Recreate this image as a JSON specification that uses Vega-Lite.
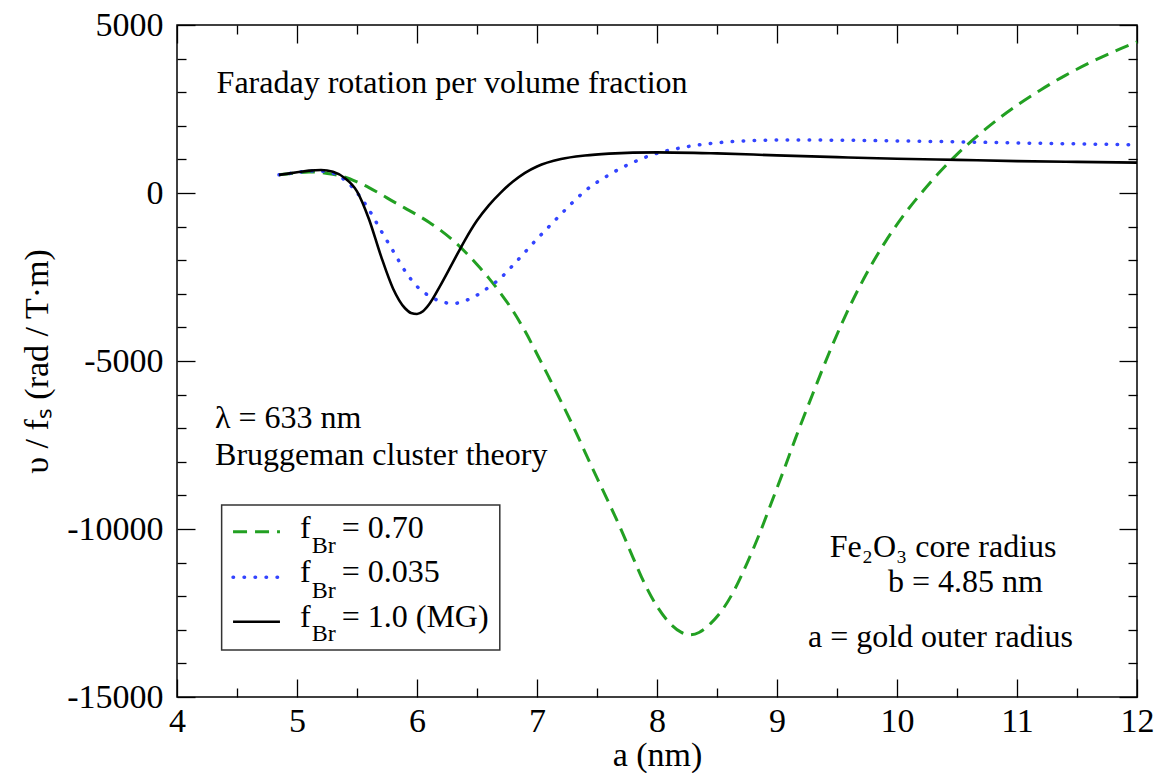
{
"$schema": "https://vega.github.io/schema/vega-lite/v6.json",
"width": 960, "height": 672,
"autosize": {"type": "none"},
"padding": {"left": 177, "top": 25, "right": 22, "bottom": 76},
"background": "white",
"config": {
  "view": {"stroke": "black", "strokeWidth": 1.5},
  "font": "Liberation Serif",
  "axis": {"domain": false, "grid": false, "tickColor": "black", "tickWidth": 1.3, "labelFont": "Liberation Serif", "labelFontSize": 34, "labelColor": "black", "titleFont": "Liberation Serif", "titleFontSize": 34, "titleFontWeight": "normal", "titleColor": "black", "labelFlush": false, "labelOverlap": false, "labelAngle": 0},
  "text": {"font": "Liberation Serif", "fontSize": 32, "color": "black"}
},
"datasets": {
  "curves": [
    {"series": "0.70", "a": 4.85, "v": 540}, {"series": "0.70", "a": 5.0, "v": 600}, {"series": "0.70", "a": 5.1, "v": 625}, {"series": "0.70", "a": 5.2, "v": 610}, {"series": "0.70", "a": 5.3, "v": 555}, {"series": "0.70", "a": 5.4, "v": 470}, {"series": "0.70", "a": 5.5, "v": 330}, {"series": "0.70", "a": 5.6, "v": 160}, {"series": "0.70", "a": 5.7, "v": -40}, {"series": "0.70", "a": 5.8, "v": -250}, {"series": "0.70", "a": 5.9, "v": -450}, {"series": "0.70", "a": 6.0, "v": -650}, {"series": "0.70", "a": 6.1, "v": -870}, {"series": "0.70", "a": 6.2, "v": -1120}, {"series": "0.70", "a": 6.3, "v": -1410}, {"series": "0.70", "a": 6.4, "v": -1750}, {"series": "0.70", "a": 6.5, "v": -2130}, {"series": "0.70", "a": 6.6, "v": -2540}, {"series": "0.70", "a": 6.7, "v": -3000}, {"series": "0.70", "a": 6.8, "v": -3510}, {"series": "0.70", "a": 6.9, "v": -4110}, {"series": "0.70", "a": 7.0, "v": -4790}, {"series": "0.70", "a": 7.1, "v": -5490}, {"series": "0.70", "a": 7.2, "v": -6200}, {"series": "0.70", "a": 7.3, "v": -6930}, {"series": "0.70", "a": 7.4, "v": -7710}, {"series": "0.70", "a": 7.5, "v": -8480}, {"series": "0.70", "a": 7.6, "v": -9230}, {"series": "0.70", "a": 7.7, "v": -10010}, {"series": "0.70", "a": 7.8, "v": -10850}, {"series": "0.70", "a": 7.9, "v": -11650}, {"series": "0.70", "a": 8.0, "v": -12300}, {"series": "0.70", "a": 8.1, "v": -12780}, {"series": "0.70", "a": 8.2, "v": -13070}, {"series": "0.70", "a": 8.27, "v": -13150}, {"series": "0.70", "a": 8.35, "v": -13080}, {"series": "0.70", "a": 8.45, "v": -12800}, {"series": "0.70", "a": 8.55, "v": -12380}, {"series": "0.70", "a": 8.65, "v": -11780}, {"series": "0.70", "a": 8.75, "v": -11020}, {"series": "0.70", "a": 8.85, "v": -10180}, {"series": "0.70", "a": 8.95, "v": -9250}, {"series": "0.70", "a": 9.05, "v": -8310}, {"series": "0.70", "a": 9.15, "v": -7340}, {"series": "0.70", "a": 9.3, "v": -5960}, {"series": "0.70", "a": 9.45, "v": -4625}, {"series": "0.70", "a": 9.6, "v": -3425}, {"series": "0.70", "a": 9.75, "v": -2375}, {"series": "0.70", "a": 9.9, "v": -1468}, {"series": "0.70", "a": 10.05, "v": -688}, {"series": "0.70", "a": 10.2, "v": -13}, {"series": "0.70", "a": 10.35, "v": 600}, {"series": "0.70", "a": 10.5, "v": 1150}, {"series": "0.70", "a": 10.7, "v": 1790}, {"series": "0.70", "a": 10.85, "v": 2220}, {"series": "0.70", "a": 11.0, "v": 2610}, {"series": "0.70", "a": 11.2, "v": 3075}, {"series": "0.70", "a": 11.4, "v": 3495}, {"series": "0.70", "a": 11.6, "v": 3865}, {"series": "0.70", "a": 11.8, "v": 4195}, {"series": "0.70", "a": 12.0, "v": 4495},
    {"series": "0.035", "a": 4.85, "v": 540}, {"series": "0.035", "a": 5.0, "v": 610}, {"series": "0.035", "a": 5.1, "v": 655}, {"series": "0.035", "a": 5.2, "v": 650}, {"series": "0.035", "a": 5.3, "v": 590}, {"series": "0.035", "a": 5.4, "v": 380}, {"series": "0.035", "a": 5.5, "v": 10}, {"series": "0.035", "a": 5.6, "v": -500}, {"series": "0.035", "a": 5.7, "v": -1120}, {"series": "0.035", "a": 5.8, "v": -1720}, {"series": "0.035", "a": 5.9, "v": -2320}, {"series": "0.035", "a": 6.0, "v": -2780}, {"series": "0.035", "a": 6.1, "v": -3060}, {"series": "0.035", "a": 6.2, "v": -3230}, {"series": "0.035", "a": 6.3, "v": -3290}, {"series": "0.035", "a": 6.4, "v": -3210}, {"series": "0.035", "a": 6.5, "v": -3040}, {"series": "0.035", "a": 6.6, "v": -2800}, {"series": "0.035", "a": 6.7, "v": -2520}, {"series": "0.035", "a": 6.8, "v": -2150}, {"series": "0.035", "a": 6.9, "v": -1760}, {"series": "0.035", "a": 7.0, "v": -1370}, {"series": "0.035", "a": 7.1, "v": -1000}, {"series": "0.035", "a": 7.2, "v": -630}, {"series": "0.035", "a": 7.3, "v": -270}, {"series": "0.035", "a": 7.4, "v": 60}, {"series": "0.035", "a": 7.5, "v": 320}, {"series": "0.035", "a": 7.6, "v": 540}, {"series": "0.035", "a": 7.7, "v": 740}, {"series": "0.035", "a": 7.8, "v": 910}, {"series": "0.035", "a": 7.9, "v": 1060}, {"series": "0.035", "a": 8.0, "v": 1180}, {"series": "0.035", "a": 8.2, "v": 1345}, {"series": "0.035", "a": 8.4, "v": 1455}, {"series": "0.035", "a": 8.6, "v": 1525}, {"series": "0.035", "a": 8.8, "v": 1560}, {"series": "0.035", "a": 9.0, "v": 1575}, {"series": "0.035", "a": 9.2, "v": 1578}, {"series": "0.035", "a": 9.5, "v": 1572}, {"series": "0.035", "a": 10.0, "v": 1550}, {"series": "0.035", "a": 10.5, "v": 1522}, {"series": "0.035", "a": 11.0, "v": 1490}, {"series": "0.035", "a": 11.5, "v": 1462}, {"series": "0.035", "a": 12.0, "v": 1435},
    {"series": "1.0", "a": 4.85, "v": 540}, {"series": "1.0", "a": 5.0, "v": 615}, {"series": "1.0", "a": 5.1, "v": 665}, {"series": "1.0", "a": 5.2, "v": 685}, {"series": "1.0", "a": 5.3, "v": 630}, {"series": "1.0", "a": 5.4, "v": 440}, {"series": "1.0", "a": 5.5, "v": 50}, {"series": "1.0", "a": 5.6, "v": -780}, {"series": "1.0", "a": 5.7, "v": -1880}, {"series": "1.0", "a": 5.8, "v": -2840}, {"series": "1.0", "a": 5.9, "v": -3430}, {"series": "1.0", "a": 5.95, "v": -3570}, {"series": "1.0", "a": 6.0, "v": -3600}, {"series": "1.0", "a": 6.05, "v": -3520}, {"series": "1.0", "a": 6.1, "v": -3320}, {"series": "1.0", "a": 6.2, "v": -2720}, {"series": "1.0", "a": 6.3, "v": -2060}, {"series": "1.0", "a": 6.4, "v": -1400}, {"series": "1.0", "a": 6.5, "v": -820}, {"series": "1.0", "a": 6.6, "v": -360}, {"series": "1.0", "a": 6.7, "v": 20}, {"series": "1.0", "a": 6.8, "v": 340}, {"series": "1.0", "a": 6.9, "v": 600}, {"series": "1.0", "a": 7.0, "v": 790}, {"series": "1.0", "a": 7.2, "v": 1010}, {"series": "1.0", "a": 7.4, "v": 1115}, {"series": "1.0", "a": 7.6, "v": 1172}, {"series": "1.0", "a": 7.8, "v": 1202}, {"series": "1.0", "a": 8.0, "v": 1210}, {"series": "1.0", "a": 8.5, "v": 1178}, {"series": "1.0", "a": 9.0, "v": 1120}, {"series": "1.0", "a": 9.5, "v": 1068}, {"series": "1.0", "a": 10.0, "v": 1020}, {"series": "1.0", "a": 10.5, "v": 985}, {"series": "1.0", "a": 11.0, "v": 950}, {"series": "1.0", "a": 11.5, "v": 925}, {"series": "1.0", "a": 12.0, "v": 903}
  ]
},
"resolve": {"axis": {"x": "independent", "y": "independent"}},
"layer": [
  {
    "layer": [
      {
        "data": {"name": "curves"},
        "transform": [{"filter": "datum.series === '0.70'"}],
        "mark": {"type": "line", "color": "#22a022", "strokeWidth": 3, "strokeDash": [14, 8], "interpolate": "monotone"},
        "encoding": {
          "x": {"field": "a", "type": "quantitative", "scale": {"domain": [4, 12], "nice": false, "zero": false}, "axis": null},
          "y": {"field": "v", "type": "quantitative", "scale": {"domain": [-15000, 5000], "nice": false, "zero": false}, "axis": null}
        }
      },
      {
        "data": {"name": "curves"},
        "transform": [{"filter": "datum.series === '0.035'"}],
        "mark": {"type": "line", "color": "#3344ff", "strokeWidth": 3.5, "strokeDash": [0.5, 10.5], "strokeCap": "round", "interpolate": "monotone"},
        "encoding": {
          "x": {"field": "a", "type": "quantitative", "axis": null},
          "y": {"field": "v", "type": "quantitative", "axis": null}
        }
      },
      {
        "data": {"name": "curves"},
        "transform": [{"filter": "datum.series === '1.0'"}],
        "mark": {"type": "line", "color": "black", "strokeWidth": 2.6, "interpolate": "monotone"},
        "encoding": {
          "x": {"field": "a", "type": "quantitative", "axis": null},
          "y": {"field": "v", "type": "quantitative", "axis": null}
        }
      },
      {"data": {"values": [{}]}, "mark": {"type": "text", "text": "Faraday rotation per volume fraction", "align": "left", "baseline": "alphabetic"},
       "encoding": {"x": {"datum": 4.33, "axis": null}, "y": {"datum": 2967, "axis": null}}},
      {"data": {"values": [{}]}, "mark": {"type": "text", "text": "λ = 633 nm", "align": "left", "baseline": "alphabetic"},
       "encoding": {"x": {"datum": 4.317, "axis": null}, "y": {"datum": -7004, "axis": null}}},
      {"data": {"values": [{}]}, "mark": {"type": "text", "text": "Bruggeman cluster theory", "align": "left", "baseline": "alphabetic"},
       "encoding": {"x": {"datum": 4.317, "axis": null}, "y": {"datum": -8095, "axis": null}}},
      {"data": {"values": [{}]}, "mark": {"type": "text", "text": "Fe₂O₃ core radius", "align": "left", "baseline": "alphabetic"},
       "encoding": {"x": {"datum": 9.44, "axis": null}, "y": {"datum": -10824, "axis": null}}},
      {"data": {"values": [{}]}, "mark": {"type": "text", "text": "b = 4.85 nm", "align": "left", "baseline": "alphabetic"},
       "encoding": {"x": {"datum": 9.925, "axis": null}, "y": {"datum": -11866, "axis": null}}},
      {"data": {"values": [{}]}, "mark": {"type": "text", "text": "a = gold outer radius", "align": "left", "baseline": "alphabetic"},
       "encoding": {"x": {"datum": 9.258, "axis": null}, "y": {"datum": -13503, "axis": null}}},
      {"data": {"values": [{}]}, "mark": {"type": "rect", "fill": null, "fillOpacity": 0, "stroke": "#333333", "strokeWidth": 1.5},
       "encoding": {"x": {"datum": 4.372, "axis": null}, "x2": {"datum": 6.69}, "y": {"datum": -9286, "axis": null}, "y2": {"datum": -13601}}},
      {"data": {"values": [{}]}, "mark": {"type": "rule", "color": "#22a022", "strokeWidth": 3, "strokeDash": [14, 8]},
       "encoding": {"x": {"datum": 4.467, "axis": null}, "x2": {"datum": 4.858}, "y": {"datum": -10080, "axis": null}}},
      {"data": {"values": [{}]}, "mark": {"type": "rule", "color": "#3344ff", "strokeWidth": 3.5, "strokeDash": [0.5, 10.5], "strokeCap": "round"},
       "encoding": {"x": {"datum": 4.467, "axis": null}, "x2": {"datum": 4.858}, "y": {"datum": -11438, "axis": null}}},
      {"data": {"values": [{}]}, "mark": {"type": "rule", "color": "black", "strokeWidth": 2.6},
       "encoding": {"x": {"datum": 4.467, "axis": null}, "x2": {"datum": 4.858}, "y": {"datum": -12759, "axis": null}}},
      {"data": {"values": [{}]}, "mark": {"type": "text", "text": "f", "align": "left", "baseline": "alphabetic"},
       "encoding": {"x": {"datum": 5.025, "axis": null}, "y": {"datum": -10277, "axis": null}}},
      {"data": {"values": [{}]}, "mark": {"type": "text", "text": "Br", "align": "left", "baseline": "alphabetic", "fontSize": 24},
       "encoding": {"x": {"datum": 5.1225, "axis": null}, "y": {"datum": -10700, "axis": null}}},
      {"data": {"values": [{}]}, "mark": {"type": "text", "text": "= 0.70", "align": "left", "baseline": "alphabetic"},
       "encoding": {"x": {"datum": 5.3725, "axis": null}, "y": {"datum": -10277, "axis": null}}},
      {"data": {"values": [{}]}, "mark": {"type": "text", "text": "f", "align": "left", "baseline": "alphabetic"},
       "encoding": {"x": {"datum": 5.025, "axis": null}, "y": {"datum": -11568, "axis": null}}},
      {"data": {"values": [{}]}, "mark": {"type": "text", "text": "Br", "align": "left", "baseline": "alphabetic", "fontSize": 24},
       "encoding": {"x": {"datum": 5.1225, "axis": null}, "y": {"datum": -12040, "axis": null}}},
      {"data": {"values": [{}]}, "mark": {"type": "text", "text": "= 0.035", "align": "left", "baseline": "alphabetic"},
       "encoding": {"x": {"datum": 5.3725, "axis": null}, "y": {"datum": -11568, "axis": null}}},
      {"data": {"values": [{}]}, "mark": {"type": "text", "text": "f", "align": "left", "baseline": "alphabetic"},
       "encoding": {"x": {"datum": 5.025, "axis": null}, "y": {"datum": -12908, "axis": null}}},
      {"data": {"values": [{}]}, "mark": {"type": "text", "text": "Br", "align": "left", "baseline": "alphabetic", "fontSize": 24},
       "encoding": {"x": {"datum": 5.1225, "axis": null}, "y": {"datum": -13330, "axis": null}}},
      {"data": {"values": [{}]}, "mark": {"type": "text", "text": "= 1.0 (MG)", "align": "left", "baseline": "alphabetic"},
       "encoding": {"x": {"datum": 5.3725, "axis": null}, "y": {"datum": -12908, "axis": null}}}
    ]
  },
  {
    "data": {"name": "curves"},
    "mark": {"type": "point", "opacity": 0},
    "encoding": {
      "x": {"field": "a", "type": "quantitative", "axis": {"orient": "bottom", "values": [4, 5, 6, 7, 8, 9, 10, 11, 12], "tickSize": -18, "labelPadding": 25, "title": "a (nm)", "titlePadding": 0, "labelExpr": "'' + datum.value"}},
      "y": {"field": "v", "type": "quantitative", "axis": {"orient": "left", "values": [-15000, -10000, -5000, 0, 5000], "tickSize": -18, "labelPadding": 32, "title": "υ / fₛ (rad / T·m)", "titlePadding": 12, "labelExpr": "'' + datum.value"}}
    }
  },
  {
    "data": {"name": "curves"},
    "mark": {"type": "point", "opacity": 0},
    "encoding": {
      "x": {"field": "a", "type": "quantitative", "axis": {"orient": "bottom", "values": [4.5, 5.5, 6.5, 7.5, 8.5, 9.5, 10.5, 11.5], "tickSize": -9, "labels": false, "title": null}},
      "y": {"field": "v", "type": "quantitative", "axis": {"orient": "left", "values": [-14000, -13000, -12000, -11000, -9000, -8000, -7000, -6000, -4000, -3000, -2000, -1000, 1000, 2000, 3000, 4000], "tickSize": -9, "labels": false, "title": null}}
    }
  },
  {
    "data": {"name": "curves"},
    "mark": {"type": "point", "opacity": 0},
    "encoding": {
      "x": {"field": "a", "type": "quantitative", "axis": {"orient": "top", "values": [4, 5, 6, 7, 8, 9, 10, 11, 12], "tickSize": -18, "labels": false, "title": null}},
      "y": {"field": "v", "type": "quantitative", "axis": {"orient": "right", "values": [-15000, -10000, -5000, 0, 5000], "tickSize": -18, "labels": false, "title": null}}
    }
  },
  {
    "data": {"name": "curves"},
    "mark": {"type": "point", "opacity": 0},
    "encoding": {
      "x": {"field": "a", "type": "quantitative", "axis": {"orient": "top", "values": [4.5, 5.5, 6.5, 7.5, 8.5, 9.5, 10.5, 11.5], "tickSize": -9, "labels": false, "title": null}},
      "y": {"field": "v", "type": "quantitative", "axis": {"orient": "right", "values": [-14000, -13000, -12000, -11000, -9000, -8000, -7000, -6000, -4000, -3000, -2000, -1000, 1000, 2000, 3000, 4000], "tickSize": -9, "labels": false, "title": null}}
    }
  }
]
}
